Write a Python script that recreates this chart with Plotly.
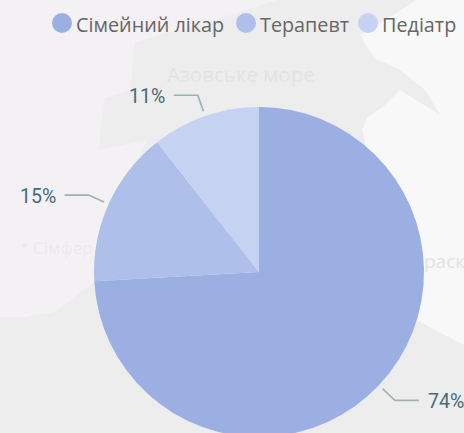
import math
import plotly.graph_objects as go

categories = ["Сімейний лікар", "Терапевт", "Педіатр"]
values = [74.1, 15.3, 10.6]
value_labels = ["74%", "15%", "11%"]
colors = ["#9BAFE3", "#AEC0EA", "#C5D2F1"]

W, H = 464, 445
CX, CY, R = 259, 272, 165
px = lambda x: x / W
py = lambda y: 1 - y / H


def poly(pts, fill):
    path = "M" + " L".join(f"{px(x):.4f},{py(y):.4f}" for x, y in pts) + " Z"
    return dict(type="path", xref="paper", yref="paper", path=path, fillcolor=fill,
                line_width=0, layer="below")


shapes = [
    poly([(0, 0), (277, 0), (215, 20), (135, 42), (130, 90), (105, 98), (98, 150), (147, 140),
          (120, 200), (94, 282), (55, 312), (25, 317), (0, 317)], "#F4F1F4"),
    poly([(417, 0), (464, 0), (464, 345), (420, 322), (400, 312), (375, 180), (362, 130),
          (367, 118), (385, 105), (400, 90), (440, 115), (425, 90), (400, 70), (374, 58), (360, 35)],
         "#F8F8F8"),
]

fig = go.Figure(go.Pie(
    labels=categories, values=values, sort=False, direction="clockwise", rotation=0,
    marker=dict(colors=colors, line=dict(width=0)), textinfo="none", hoverinfo="label+percent",
    showlegend=False,
    domain=dict(x=[px(CX - R), px(CX + R)], y=[py(CY + R), py(CY - R)]),
))

annotations = []


def text(x, y, s, size, color, family, anchor="left"):
    annotations.append(dict(x=px(x), y=py(y), xref="paper", yref="paper", text=s, showarrow=False,
                            xanchor=anchor, yanchor="middle", xshift=0, borderpad=0,
                            font=dict(size=size, color=color, family=family)))


# faint map labels
text(241, 74, "Азовське море", 20.5, "#E3E3E3", "Open Sans", "center")
text(32, 248, "Сімфер", 17, "#EDE9ED", "Open Sans")
text(423, 261, "раск", 19, "#E2E2E2", "Open Sans")
shapes.append(dict(type="circle", xref="paper", yref="paper", x0=px(22), x1=px(27),
                   y0=py(248), y1=py(243), fillcolor="#EBE7EB", line_width=0, layer="below"))

# legend
legend_x = [62, 246, 368]
for cat, col, lx in zip(categories, colors, legend_x):
    shapes.append(dict(type="circle", xref="paper", yref="paper", x0=px(lx - 10), x1=px(lx + 10),
                       y0=py(33), y1=py(13), fillcolor=col, line_width=0))
    text(lx + 13, 24, cat, 19.8, "#666666", "Open Sans")

# data labels with leader lines computed from the values
total = sum(values)
cum = 0
label_end_offset = 24
for v, lab in zip(values, value_labels):
    mid = (cum + v / 2) / total * 2 * math.pi
    cum += v
    sx, cx_ = math.sin(mid), -math.cos(mid)
    x0, y0 = CX + 170 * sx, CY + 170 * cx_
    x1, y1 = CX + 187 * sx, CY + 187 * cx_
    side = 1 if sx > 0 else -1
    x2 = x1 + side * label_end_offset
    p = f"M{px(x0):.4f},{py(y0):.4f} L{px(x1):.4f},{py(y1):.4f} L{px(x2):.4f},{py(y1):.4f}"
    shapes.append(dict(type="path", xref="paper", yref="paper", path=p,
                       line=dict(color="#9DB0B3", width=1.7)))
    text(x2 + side * 8, y1 + 1, lab, 19.5, "#466A78", "Roboto",
         "left" if side > 0 else "right")

fig.update_layout(width=W, height=H, margin=dict(l=0, r=0, t=0, b=0), paper_bgcolor="#EDEDED",
                  plot_bgcolor="#EDEDED", shapes=shapes, annotations=annotations)
fig.write_html("out.html", config=dict(displayModeBar=False), post_script=(
    "document.documentElement.style.overflow='hidden';"
    "document.body.style.margin='0';document.body.style.overflow='hidden';"))
